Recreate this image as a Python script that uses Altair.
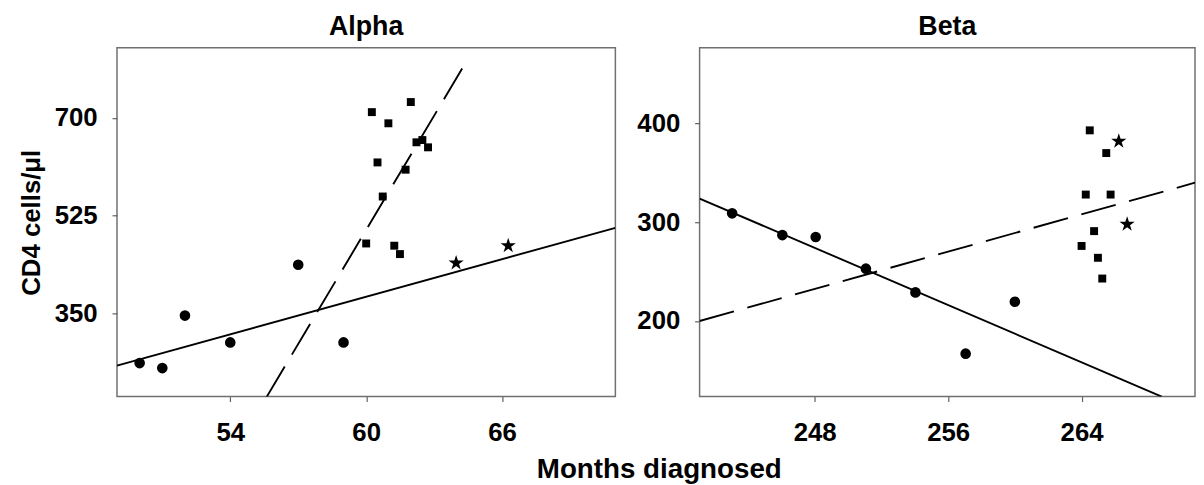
import altair as alt
import pandas as pd

FONT = "Liberation Sans"
STAR = ("M0,-1L0.225,-0.309L0.951,-0.309L0.363,0.118L0.588,0.809L0,0.382"
        "L-0.588,0.809L-0.363,0.118L-0.951,-0.309L-0.225,-0.309Z")

# ---------------- Alpha panel ----------------
alpha_circle_x = [50.0, 51.0, 52.0, 54.0, 57.0, 59.0]
alpha_circle_y = [261, 252, 346, 298, 437, 298]
alpha_square_x = [60.25, 61.97, 60.98, 62.22, 62.48, 62.73, 60.5, 61.74, 60.73, 60.0, 61.24, 61.49]
alpha_square_y = [710, 728, 690, 656, 660, 647, 620, 607, 559, 475, 471, 456]
alpha_star_x = [63.97, 66.27]
alpha_star_y = [440, 471]
alpha_solid_x = [49.0, 71.0]
alpha_solid_y = [256.5, 503.0]
alpha_dash_x = [55.6, 64.4]
alpha_dash_y = [200.0, 799.0]
alpha_x_domain = [49, 71]
alpha_y_domain = [201, 825]
alpha_x_ticks = [54, 60, 66]
alpha_y_ticks = [350, 525, 700]

# ---------------- Beta panel ----------------
beta_circle_x = [243.05, 246.06, 248.06, 251.07, 254.04, 257.05, 260.0]
beta_circle_y = [309, 287, 285, 253, 229, 167, 219.5]
beta_square_x = [264.49, 265.48, 264.25, 265.74, 264.75, 264.0, 264.98, 265.24]
beta_square_y = [393, 370, 328, 328, 291, 276, 264, 243]
beta_star_x = [266.23, 266.73]
beta_star_y = [382, 298]
beta_solid_x = [241.1, 268.8]
beta_solid_y = [324.0, 123.5]
beta_dash_x = [241.1, 270.8]
beta_dash_y = [200.0, 340.0]
beta_x_domain = [241.1, 270.8]
beta_y_domain = [123.5, 476.5]
beta_x_ticks = [248, 256, 264]
beta_y_ticks = [200, 300, 400]

x_title = "Months diagnosed"
y_title = "CD4 cells/μl"


def df(xs, ys):
    return pd.DataFrame({"m": xs, "v": ys})


def panel(title, circ, sq, star, solid, dash, xdom, ydom, xticks, yticks, ytitle, width):
    x = alt.X("m:Q", scale=alt.Scale(domain=xdom, nice=False, zero=False),
              axis=alt.Axis(values=xticks, title="", labelPadding=18))
    y = alt.Y("v:Q", scale=alt.Scale(domain=ydom, nice=False, zero=False),
              axis=alt.Axis(values=yticks, title=ytitle, labelPadding=15, titlePadding=10))

    l_solid = alt.Chart(df(*solid)).mark_line(color="black", strokeWidth=1.9, clip=True).encode(x=x, y=y)
    l_dash = alt.Chart(df(*dash)).mark_line(color="black", strokeWidth=1.9, strokeDash=[36, 14], clip=True).encode(x=x, y=y)
    p_c = alt.Chart(df(*circ)).mark_point(shape="circle", filled=True, color="black", opacity=1, size=115).encode(x=x, y=y)
    p_s = alt.Chart(df(*sq)).mark_point(shape="square", filled=True, color="black", opacity=1, size=64).encode(x=x, y=y)
    p_t = alt.Chart(df(*star)).mark_point(shape=STAR, filled=True, color="black", opacity=1, size=260).encode(x=x, y=y)
    return alt.layer(l_solid, l_dash, p_c, p_s, p_t).properties(
        width=width, height=352, title=title,
    )


alpha = panel("Alpha",
              (alpha_circle_x, alpha_circle_y), (alpha_square_x, alpha_square_y), (alpha_star_x, alpha_star_y),
              (alpha_solid_x, alpha_solid_y), (alpha_dash_x, alpha_dash_y),
              alpha_x_domain, alpha_y_domain, alpha_x_ticks, alpha_y_ticks, y_title, 503)
beta = panel("Beta",
             (beta_circle_x, beta_circle_y), (beta_square_x, beta_square_y), (beta_star_x, beta_star_y),
             (beta_solid_x, beta_solid_y), (beta_dash_x, beta_dash_y),
             beta_x_domain, beta_y_domain, beta_x_ticks, beta_y_ticks, "", 500)

chart = alt.hconcat(alpha, beta, spacing=19).properties(
    title=alt.TitleParams(x_title, orient="bottom", anchor="middle", fontSize=28,
                          font=FONT, fontWeight="bold", color="black", offset=10, dx=53),
    padding={"left": 9, "top": 2, "right": 0, "bottom": 0},
).configure_view(
    stroke="#707070", strokeWidth=1.5
).configure_axis(
    labelFont=FONT, labelFontSize=26, labelFontWeight="bold", labelColor="black",
    titleFont=FONT, titleFontSize=26, titleFontWeight="bold", titleColor="black",
    tickColor="#606060", tickSize=5, tickWidth=1.2, domain=False, grid=False,
).configure_title(
    font=FONT, fontSize=27, fontWeight="bold", color="black", offset=7
)

chart.save("out.html", embed_options={"renderer": "svg", "actions": False})
